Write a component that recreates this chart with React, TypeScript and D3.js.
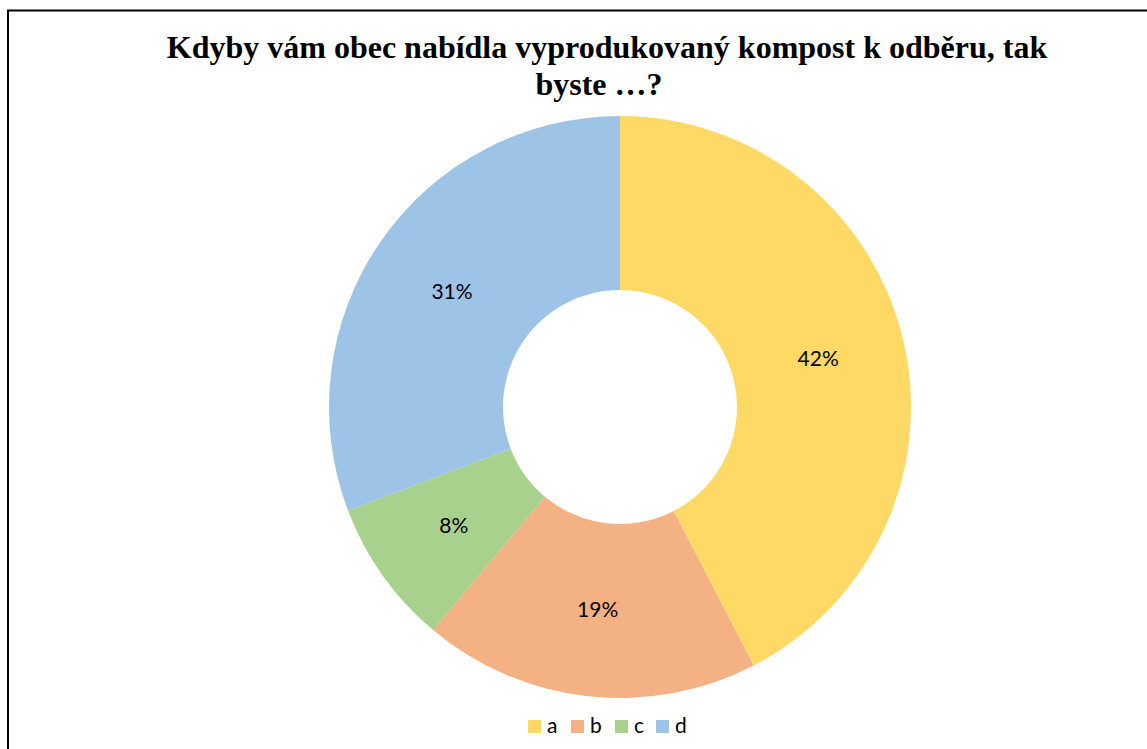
import React from "react";
import * as d3 from "d3";

const categories = ["a", "b", "c", "d"];
const values = [42.4, 18.7, 8.1, 30.8];
const labels = ["42%", "19%", "8%", "31%"];
const colors = ["#FFD966", "#F4B183", "#A9D18E", "#9DC3E6"];
const titleLines = ["Kdyby vám obec nabídla vyprodukovaný kompost k odběru, tak", "byste …?"];

export default function App() {
  const W = 1147, H = 749;
  const cx = 620, cy = 407, rOut = 291, rIn = 117;
  const pie = d3.pie<number>().sort(null).value((d) => d);
  const arcs = pie(values);
  const arc = d3.arc<d3.PieArcDatum<number>>().innerRadius(rIn).outerRadius(rOut);
  const labelArc = d3.arc<d3.PieArcDatum<number>>().innerRadius((rIn + rOut) / 2).outerRadius((rIn + rOut) / 2);
  const legendX = [528, 571, 615, 656];
  return (
    <div style={{ position: "fixed", left: 0, top: 0, width: W, height: H, background: "#fff" }}>
      <svg width={W} height={H} style={{ display: "block" }}>
        <rect x={8} y={10.5} width={1300} height={1000} fill="#fff" stroke="#000" strokeWidth={2} />
        <g fontFamily="'Liberation Serif', 'Times New Roman', serif" fontWeight="bold" fontSize={32} textAnchor="middle" fill="#000">
          <text x={607} y={58}>{titleLines[0]}</text>
          <text x={599} y={95}>{titleLines[1]}</text>
        </g>
        <g transform={`translate(${cx},${cy})`}>
          {arcs.map((a, i) => (
            <path key={categories[i]} d={arc(a) || ""} fill={colors[i]} />
          ))}
          {arcs.map((a, i) => {
            const [x, y] = labelArc.centroid(a);
            return (
              <text key={"l" + i} x={x} y={y} dy="0.35em" textAnchor="middle" fontFamily="Lato, 'Open Sans', sans-serif" fontSize={21} fill="#000">
                {labels[i]}
              </text>
            );
          })}
        </g>
        <g fontFamily="Lato, 'Open Sans', sans-serif" fontSize={21} fill="#000">
          {categories.map((c, i) => (
            <g key={"lg" + c}>
              <rect x={legendX[i]} y={720} width={13} height={13} fill={colors[i]} />
              <text x={legendX[i] + 19} y={733}>{c}</text>
            </g>
          ))}
        </g>
      </svg>
    </div>
  );
}
